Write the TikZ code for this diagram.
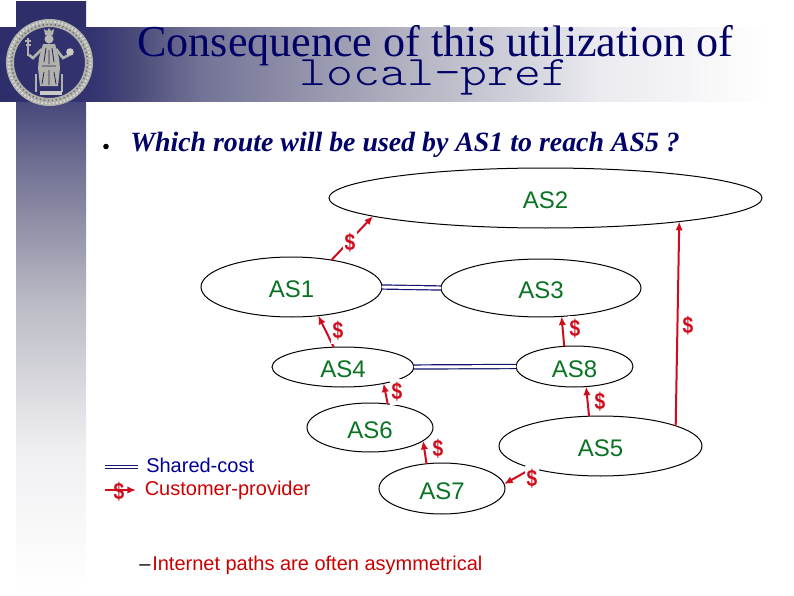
\documentclass[tikz,border=0pt]{standalone}
\usepackage{fontspec}
\setmainfont{Liberation Serif}
\newfontfamily\arialf{Liberation Sans}
\newfontfamily\dollarf[FakeStretch=0.82]{Liberation Sans Bold}
\newfontfamily\monof[FakeStretch=1.22]{Latin Modern Mono Light}
\usetikzlibrary{shapes.geometric,arrows.meta}
\definecolor{navyt}{RGB}{0,0,102}
\definecolor{navyb}{RGB}{0,0,153}
\definecolor{linkc}{RGB}{20,20,110}
\definecolor{redc}{RGB}{208,12,28}
\definecolor{redt}{RGB}{204,0,0}
\definecolor{greenc}{RGB}{10,115,35}
\definecolor{sealc}{RGB}{178,178,172}
\definecolor{sealdk}{RGB}{46,46,107}
\pgfdeclarehorizontalshading{bandshade}{100bp}{
 rgb(0bp)=(0.18,0.18,0.42); rgb(25bp)=(0.18,0.18,0.42); rgb(30.7bp)=(0.2,0.2,0.44);
 rgb(33.2bp)=(0.28,0.28,0.47); rgb(37.6bp)=(0.45,0.45,0.59); rgb(50.2bp)=(0.69,0.69,0.75);
 rgb(56.5bp)=(0.80,0.80,0.84); rgb(62.8bp)=(0.92,0.92,0.94); rgb(73.5bp)=(1,1,1); rgb(100bp)=(1,1,1)}
\pgfdeclareverticalshading{barshade}{100bp}{
 rgb(0bp)=(1,1,1); rgb(25.5bp)=(1,1,1); rgb(37.2bp)=(0.94,0.94,0.95); rgb(49.8bp)=(0.73,0.73,0.77);
 rgb(61.6bp)=(0.43,0.43,0.57); rgb(66.2bp)=(0.29,0.29,0.49); rgb(70bp)=(0.18,0.18,0.42); rgb(100bp)=(0.18,0.18,0.42)}
\tikzset{
 asnode/.style={ellipse,draw=black,line width=0.75pt,inner sep=0pt,outer sep=0pt,text=greenc,
   font=\arialf\fontsize{18}{20}\selectfont,text height=15.75pt,text depth=0pt},
 cust/.style={draw=redc,line width=1.5pt,-{Latex[length=6.5pt,width=5.5pt]}},
 shared/.style={draw=linkc,double=white,double distance=2.2pt,line width=0.9pt},
 dollar/.style={fill=white,inner sep=0pt,minimum width=10.5pt,minimum height=19.5pt,text=redc,
   font=\dollarf\fontsize{17.5}{17.5}\selectfont},
 legendtext/.style={anchor=base west,inner sep=0pt,font=\arialf\fontsize{15}{18}\selectfont},
}
\begin{document}
\begin{tikzpicture}[x=0.75pt,y=-0.75pt]
\useasboundingbox (0,0) rectangle (794,596);
% banner
\shade[shading=barshade] (16,1) rectangle (86,596);
\shade[shading=bandshade] (0,27) rectangle (794,101);
% seal
\begin{scope}
\draw[sealc,line width=6pt] (49.5,62.5) circle[radius=39.5];
\draw[white!85!black,line width=1.6pt,dash pattern=on 1.2pt off 1.6pt] (49.5,62.5) circle[radius=41];
\draw[black!55,line width=1.2pt,dash pattern=on 1pt off 2pt] (49.5,62.5) circle[radius=38];
% figure
\fill[sealc] (45,35) -- (44,29) -- (47,31) -- (49,28) -- (51,31) -- (54,29) -- (53,35) -- cycle;
\fill[sealc!90!white] (49,39) circle[radius=4.5];
\fill[sealc] (43,44) -- (55,44) -- (59,58) -- (60,68) -- (58,86) -- (40,86) -- (38,68) -- (39,58) -- cycle;
\draw[sealc,line width=2pt] (42,49) -- (33,58) -- (29,55);
\draw[sealc,line width=2pt] (56,49) -- (63,58) -- (69,55);
\draw[sealc,line width=1.2pt] (28,56) -- (28,38) (25,41) -- (31,41) (25.5,45) -- (30.5,45);
\fill[sealc!70!white] (70,52) circle[radius=3.8];
\draw[sealdk!80!black,line width=0.6pt] (46,48) -- (44,62) (52,48) -- (54,62) (49,50) -- (49,64)
  (44,72) -- (42,84) (49,70) -- (49,85) (54,72) -- (56,84) (42,66) -- (56,66);
\draw[sealc,line width=1.6pt] (36,74) -- (36,92) (62,74) -- (62,92);
\fill[sealc!70!white] (40,91) rectangle (62,95);
\end{scope}
% title
\node[anchor=base west,inner sep=0pt,text=navyt,font=\fontsize{33.1}{36}\selectfont] (title1) at (137,56) {Consequence of this utilization of};
\node[anchor=base,inner sep=0pt,text=navyt,font=\monof\fontsize{31.5}{34}\selectfont] (title2) at (434,85) {local-pref};
\fill (106,146.5) circle[radius=2.8];
\node[anchor=base west,inner sep=0pt,text=navyt,font=\bfseries\itshape\fontsize{20.9}{24}\selectfont] (question) at (130,151) {Which route will be used by AS1 to reach AS5 ?};
% AS nodes
\node[asnode,minimum width=324.75pt,minimum height=45pt] (as2) at (545.5,198) {AS2};
\node[asnode,minimum width=135.75pt,minimum height=45pt] (as1) at (291.5,287) {AS1};
\node[asnode,minimum width=150pt,minimum height=43.5pt] (as3) at (541,288) {AS3};
\node[asnode,minimum width=106.5pt,minimum height=30pt] (as4) at (343,367) {AS4};
\node[asnode,minimum width=87.75pt,minimum height=30.75pt] (as8) at (574.5,366.5) {AS8};
\node[asnode,minimum width=94.5pt,minimum height=36.75pt] (as6) at (370,427.5) {AS6};
\node[asnode,minimum width=152.25pt,minimum height=45pt] (as5) at (600.5,446) {AS5};
\node[asnode,minimum width=94.5pt,minimum height=38.25pt] (as7) at (442,488.5) {AS7};
% shared links
\draw[shared] (as1.east) -- (as3.west);
\draw[shared] (as4.east) -- (as8.west);
% customer-provider
\draw[cust] (as1.34.4) -- (as2.186.3);
\draw[cust] (as4.115) -- (as1.-47.6);
\draw[cust] (as8.117) -- (as3.-54.5);
\draw[cust] (as6.53) -- (as4.-22.4);
\draw[cust] (as7.122) -- (as6.-14);
\draw[cust] (as5.111) -- (as8.-60.7);
\draw[cust] (as5.198.6) -- (as7.4);
\draw[cust] (as5.15) -- (as2.-10.5);
% dollars
\node[dollar] (d1) at (350,243) {\$};
\node[dollar] (d2) at (338,331) {\$};
\node[dollar] (d3) at (575,329) {\$};
\node[dollar] (d4) at (688,326) {\$};
\node[dollar] (d5) at (397,392) {\$};
\node[dollar] (d6) at (438,449) {\$};
\node[dollar] (d7) at (600,402) {\$};
\node[dollar] (d8) at (532,479) {\$};
% legend
\coordinate (ls1) at (105,467);
\coordinate (ls2) at (138,467);
\draw[shared,double distance=2pt,line width=0.7pt] (ls1) -- (ls2);
\node[legendtext,text=navyb] (lt1) at (146,472) {Shared-cost};
\coordinate (lc1) at (105,490);
\coordinate (lc2) at (136,490);
\draw[cust] (lc1) -- (lc2);
\node[dollar,fill=none] (d9) at (119,492) {\$};
\node[legendtext,text=redt] (lt2) at (144.5,495) {Customer-provider};
% bottom text
\node[legendtext,text=black] (dash) at (139,570) {–};
\node[legendtext,text=redt] (note) at (152,570) {Internet paths are often asymmetrical};
\end{tikzpicture}
\end{document}
